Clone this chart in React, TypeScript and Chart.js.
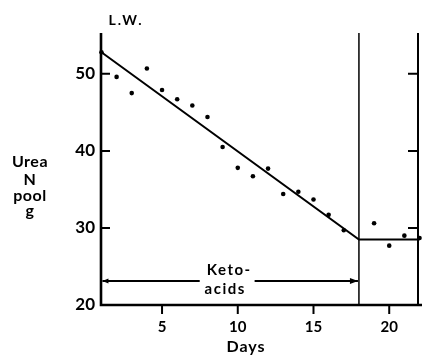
import React, { useEffect, useRef } from "react";
import { Chart, registerables } from "chart.js";

Chart.register(...registerables);

// ---- data ----
const days = [1, 2, 3, 4, 5, 6, 7, 8, 9, 10, 11, 12, 13, 14, 15, 16, 17, 19, 20, 21, 22];
const ureaNPool = [52.8, 49.6, 47.5, 50.7, 47.9, 46.7, 45.9, 44.4, 40.5, 37.8, 36.7, 37.7, 34.4, 34.7, 33.7, 31.7, 29.7, 30.6, 27.7, 29.0, 28.7];
const fitDays = [1, 18, 22];
const fitValues = [52.8, 28.5, 28.5];
const switchDay = 18;
const xTickValues = [5, 10, 15, 20];
const yTickValues = [20, 30, 40, 50];
const yTitleLines = ["Urea", "N", "pool", "g"];
const topLabel = "L.W.";
const ketoLines = ["Keto-", "acids"];
const ketoStartDay = 1;
const ketoEndDay = 18;
const ketoArrowValue = 23.1;
const ketoLabelDay = 9.3;
const xTitle = "Days";
const xMin = 0.97;
const xMax = 21.9;
const yMin = 20;
const yMax = 55.3;

const W = 422;
const H = 356;
const FONT = "Lato, 'DejaVu Sans', sans-serif";

const decorPlugin = {
  id: "decor",
  afterDatasetsDraw(chart: any) {
    const { ctx, chartArea: a, scales } = chart;
    const x = scales.x;
    const y = scales.y;
    ctx.save();
    ctx.strokeStyle = "#000";
    ctx.fillStyle = "#000";
    ctx.lineCap = "butt";

    // left axis + bottom axis
    ctx.lineWidth = 2.6;
    ctx.beginPath();
    ctx.moveTo(a.left, a.top);
    ctx.lineTo(a.left, a.bottom);
    ctx.lineTo(W, a.bottom);
    ctx.stroke();

    // right axis
    ctx.lineWidth = 2;
    ctx.beginPath();
    ctx.moveTo(a.right, a.top);
    ctx.lineTo(a.right, a.bottom);
    ctx.stroke();

    // y ticks (inward, both sides)
    ctx.lineWidth = 2;
    for (const v of yTickValues) {
      if (v <= yMin) continue;
      const py = y.getPixelForValue(v);
      ctx.beginPath();
      ctx.moveTo(a.left, py);
      ctx.lineTo(a.left + 9, py);
      ctx.moveTo(a.right, py);
      ctx.lineTo(a.right - 10, py);
      ctx.stroke();
    }
    // x ticks (outward)
    for (const v of xTickValues) {
      const px = x.getPixelForValue(v);
      ctx.beginPath();
      ctx.moveTo(px, a.bottom);
      ctx.lineTo(px, a.bottom + 9);
      ctx.stroke();
    }

    // Keto-acids arrow with text
    const ay = y.getPixelForValue(ketoArrowValue);
    const ax0 = x.getPixelForValue(ketoStartDay) + 1;
    const ax1 = x.getPixelForValue(ketoEndDay) - 1;
    const cx = x.getPixelForValue(ketoLabelDay);
    ctx.font = `bold 15px ${FONT}`;
    (ctx as any).letterSpacing = "1.5px";
    const tw = ctx.measureText(ketoLines[0]).width;
    const g0 = cx - tw / 2 - 5;
    const g1 = cx + tw / 2 + 5;
    ctx.lineWidth = 2;
    ctx.beginPath();
    ctx.moveTo(ax0, ay);
    ctx.lineTo(g0, ay);
    ctx.moveTo(g1, ay);
    ctx.lineTo(ax1, ay);
    ctx.stroke();
    // arrowheads
    ctx.beginPath();
    ctx.moveTo(ax0, ay);
    ctx.lineTo(ax0 + 6, ay - 2.5);
    ctx.lineTo(ax0 + 6, ay + 2.5);
    ctx.closePath();
    ctx.fill();
    ctx.beginPath();
    ctx.moveTo(ax1, ay);
    ctx.lineTo(ax1 - 8, ay - 3);
    ctx.lineTo(ax1 - 8, ay + 3);
    ctx.closePath();
    ctx.fill();

    ctx.textAlign = "center";
    ctx.textBaseline = "alphabetic";
    ctx.fillText(ketoLines[0], cx + 2, ay - 6);
    ctx.fillText(ketoLines[1], cx - 2, ay + 12.5);

    // y title
    (ctx as any).letterSpacing = "0.5px";
    ctx.font = `bold 16px ${FONT}`;
    const base = [167, 185, 201, 216];
    yTitleLines.forEach((t, i) => ctx.fillText(t, 30, base[i]));

    // top label
    (ctx as any).letterSpacing = "2px";
    ctx.font = `bold 14px ${FONT}`;
    ctx.fillText(topLabel, 126, 25);

    // x title
    (ctx as any).letterSpacing = "1px";
    ctx.font = `bold 16px ${FONT}`;
    ctx.fillText(xTitle, 246, 352);

    ctx.restore();
  },
};

export default function App() {
  const ref = useRef<HTMLCanvasElement>(null);
  useEffect(() => {
    if (!ref.current) return;
    const chart = new Chart(ref.current, {
      type: "scatter",
      data: {
        datasets: [
          {
            data: days.map((d, i) => ({ x: d, y: ureaNPool[i] })),
            showLine: false,
            pointRadius: 2.3,
            pointBorderWidth: 0,
            pointBackgroundColor: "#000",
            backgroundColor: "#000",
            clip: false as any,
          },
          {
            data: fitDays.map((d, i) => ({ x: d, y: fitValues[i] })),
            showLine: true,
            pointRadius: 0,
            borderColor: "#000",
            borderWidth: 2,
            clip: false as any,
          },
          {
            data: [
              { x: switchDay, y: yMin },
              { x: switchDay, y: yMax },
            ],
            showLine: true,
            pointRadius: 0,
            borderColor: "#000",
            borderWidth: 1.5,
          },
        ],
      },
      options: {
        animation: false,
        responsive: false,
        layout: { padding: { top: 33, right: 2, left: 0, bottom: 0 } },
        plugins: { legend: { display: false }, tooltip: { enabled: false } },
        scales: {
          x: {
            type: "linear",
            min: xMin,
            max: xMax,
            grid: { display: false, drawTicks: false },
            border: { display: false },
            afterBuildTicks: (s: any) => {
              s.ticks = xTickValues.map((v) => ({ value: v }));
            },
            afterFit: (s: any) => {
              s.height = 51;
            },
            ticks: {
              color: "#000",
              font: { family: FONT, size: 15, weight: "bold" },
              padding: 13,
              maxRotation: 0,
              autoSkip: false,
            },
          },
          y: {
            type: "linear",
            min: yMin,
            max: yMax,
            grid: { display: false, drawTicks: false },
            border: { display: false },
            afterBuildTicks: (s: any) => {
              s.ticks = yTickValues.map((v) => ({ value: v }));
            },
            afterFit: (s: any) => {
              s.width = 101;
            },
            ticks: {
              color: "#000",
              font: { family: FONT, size: 17, weight: "bold" },
              padding: 6,
            },
          },
        },
      },
      plugins: [decorPlugin],
    });
    return () => chart.destroy();
  }, []);
  return (
    <div style={{ position: "fixed", left: 0, top: 0, width: W, height: H, background: "#fff" }}>
      <canvas ref={ref} width={W} height={H} style={{ display: "block" }} />
    </div>
  );
}
